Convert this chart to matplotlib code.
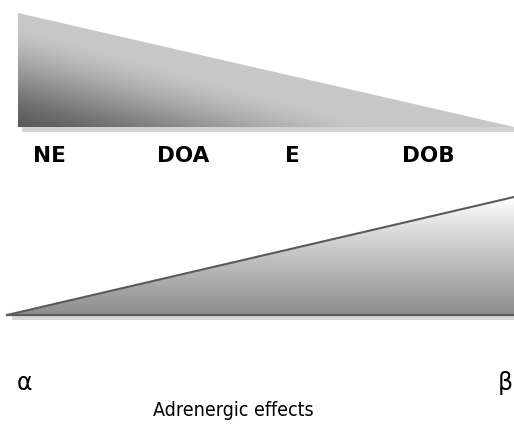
import matplotlib.pyplot as plt
import numpy as np
from matplotlib.patches import Polygon

# diagram geometry (pixel space, y downward)
top_tri = [(18, 13), (18, 127), (514, 127)]
bot_tri = [(7, 315), (514, 197), (514, 315)]

drug_labels = ['NE', 'DOA', 'E', 'DOB']
drug_x = [49, 183, 292, 428]
drug_y = 156

end_labels = ['α', 'β']
end_x = [24, 505]
end_y = 383
caption = 'Adrenergic effects'

W, H = 514, 424
fig = plt.figure(figsize=(W / 100, H / 100), dpi=100)
ax = fig.add_axes([0, 0, 1, 1])
ax.set_xlim(0, W)
ax.set_ylim(H, 0)
ax.axis('off')

yy, xx = np.mgrid[0:H, 0:W]

# top triangle: dark at bottom-left, tilted fade to light gray
s = np.clip((127 - yy) / 100.0 + (xx - 18) / 360.0, 0, 1)
s = s * s * (3 - 2 * s) * 0.5 + s * 0.5
g1 = 0.35 + 0.43 * s

# shadow under top triangle
ax.add_patch(Polygon([(22, 127), (514, 127), (514, 132), (22, 132)],
                     closed=True, fc='#d2d2d2', ec='none'))
p1 = Polygon(top_tri, closed=True, fc='none', ec='none')
ax.add_patch(p1)
im1 = ax.imshow(g1, cmap='gray', vmin=0, vmax=1, extent=(0, W, H, 0),
                interpolation='bilinear')
im1.set_clip_path(p1)

# bottom triangle: white at top, gray towards the base
t = np.clip((yy - 197) / 118.0, 0, 1)
g2 = 1.0 - 0.45 * t ** 0.9
ax.add_patch(Polygon([(12, 316), (514, 316), (514, 320), (12, 320)],
                     closed=True, fc='#d8d8d8', ec='none'))
p2 = Polygon(bot_tri, closed=True, fc='none', ec='none')
ax.add_patch(p2)
im2 = ax.imshow(g2, cmap='gray', vmin=0, vmax=1, extent=(0, W, H, 0),
                interpolation='bilinear')
im2.set_clip_path(p2)
ax.plot([bot_tri[0][0], bot_tri[1][0]], [bot_tri[0][1], bot_tri[1][1]],
        color='#5a5a5a', lw=1.5, solid_capstyle='round')
ax.plot([bot_tri[0][0], bot_tri[2][0]], [bot_tri[0][1], bot_tri[2][1]],
        color='#5e5e5e', lw=1.6)

for lab, x in zip(drug_labels, drug_x):
    ax.text(x, drug_y, lab, ha='center', va='center', fontsize=15.5,
            fontweight='bold', color='black', family='DejaVu Sans')

for lab, x in zip(end_labels, end_x):
    ax.text(x, end_y, lab, ha='center', va='center', fontsize=17,
            color='black', family='DejaVu Sans')

ax.text(233, 411, caption, ha='center', va='center', fontsize=14,
        color='black', family='DejaVu Sans', stretch='condensed')

fig.savefig('out.png', dpi=100)
